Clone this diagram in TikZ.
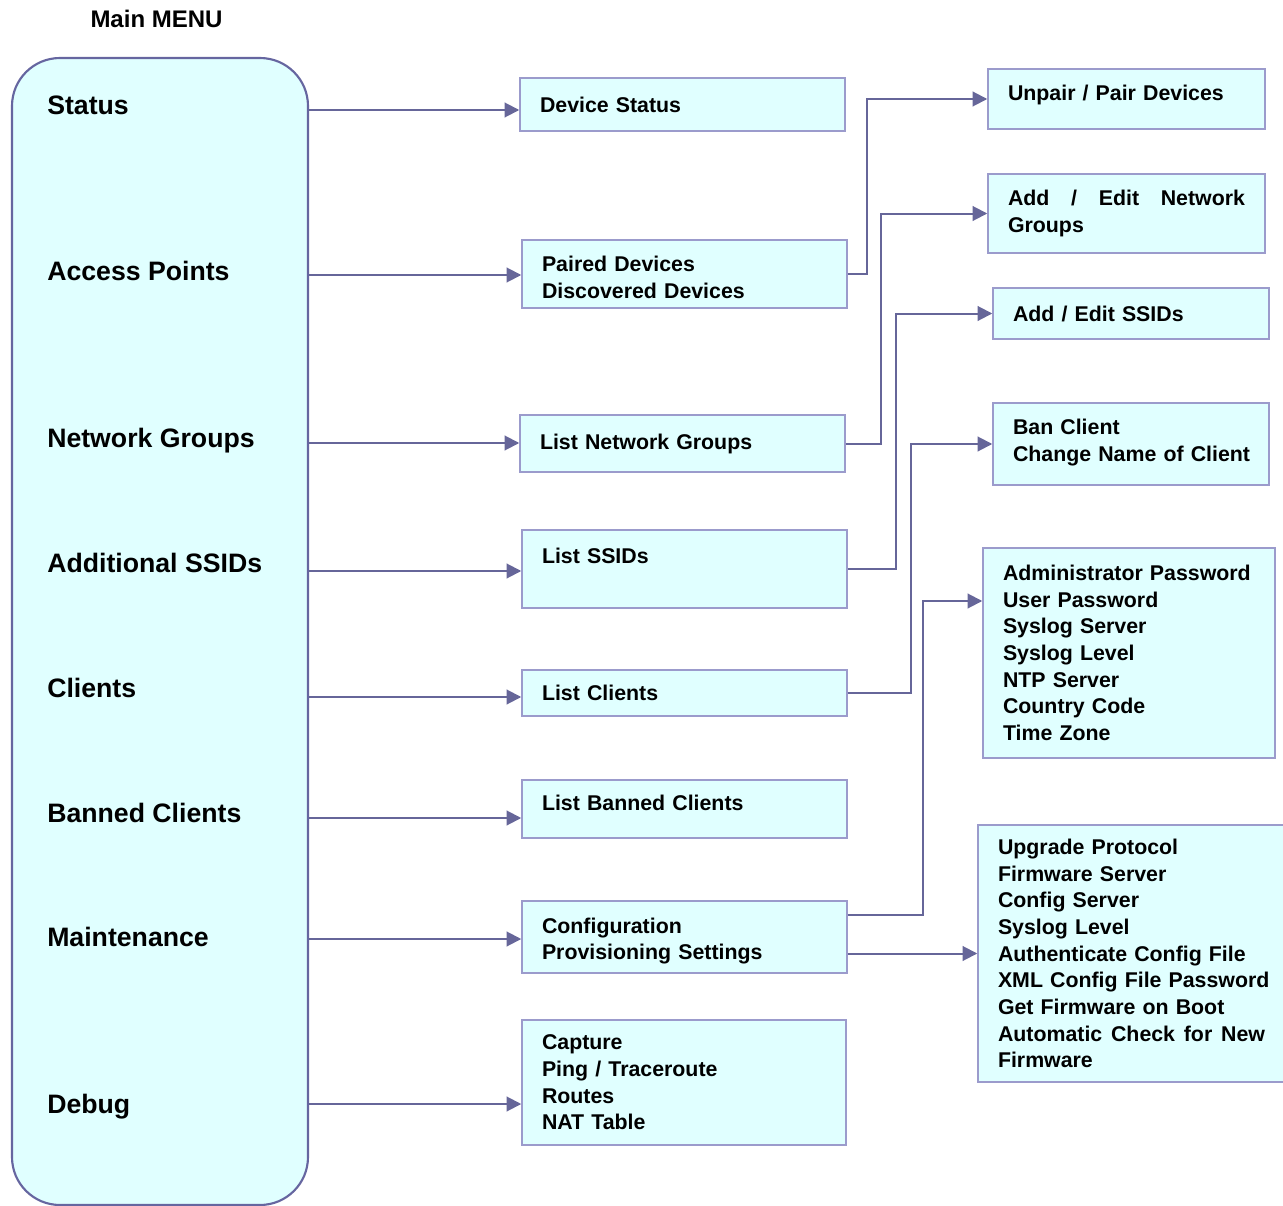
\documentclass[tikz,border=0pt]{standalone}
\usepackage{fontspec}
\setmainfont{Liberation Sans}
\usetikzlibrary{arrows.meta}
\definecolor{boxfill}{HTML}{E0FFFF}
\definecolor{boxline}{HTML}{9B9BCC}
\definecolor{mainline}{HTML}{6666A0}
\definecolor{connc}{HTML}{666699}
\newcommand{\boxfont}{\bfseries\fontsize{16}{20}\selectfont}
\newcommand{\lblfont}{\bfseries\fontsize{20}{24}\selectfont}
\begin{document}
\begin{tikzpicture}[x=0.75pt,y=-0.75pt,
  conn/.style={draw=connc, line width=1.5pt, -{Triangle[length=11pt,width=11pt]}},
  pbox/.style={draw=boxline, fill=boxfill, line width=1.1pt, inner sep=0pt, align=left, font=\boxfont},
  mainbox/.style={draw=mainline, fill=boxfill, line width=1.6pt, rounded corners=36pt},
  lbl/.style={anchor=base west, inner sep=0pt, font=\lblfont}]
\useasboundingbox (0,0) rectangle (1283,1206);

% title
\node[anchor=base, inner sep=0pt, font=\bfseries\fontsize{18}{22}\selectfont] (title) at (156.5,27.5) {Main MENU};

% main box
\node[mainbox, minimum width=222pt, minimum height=860.25pt] (main) at (160,631.5) {};
\node[lbl] (l1) at (47,114.5) {Status};
\node[lbl] (l2) at (47,280.5) {Access Points};
\node[lbl] (l3) at (47,447.5) {Network Groups};
\node[lbl] (l4) at (47,572.5) {Additional SSIDs};
\node[lbl] (l5) at (47,697.5) {Clients};
\node[lbl] (l6) at (47,822.5) {Banned Clients};
\node[lbl] (l7) at (47,946.5) {Maintenance};
\node[lbl] (l8) at (47,1113.5) {Debug};

% middle boxes
\node[pbox, minimum width=243.75pt, minimum height=39.75pt, text width=213.75pt] (ds) at (682.5,104.5) {Device Status};
\node[pbox, minimum width=243.75pt, minimum height=51pt, text width=213.75pt] (pd) at (684.5,274) {\rule{0pt}{17pt}Paired Devices\\Discovered Devices};
\node[pbox, minimum width=243.75pt, minimum height=42.75pt, text width=213.75pt] (lng) at (682.5,443.5) {List Network Groups};
\node[pbox, minimum width=243.75pt, minimum height=58.5pt, text width=213.75pt] (ls) at (684.5,569) {List SSIDs\\\mbox{}};
\node[pbox, minimum width=243.75pt, minimum height=34.5pt, text width=213.75pt] (lc) at (684.5,693) {List Clients};
\node[pbox, minimum width=243.75pt, minimum height=43.5pt, text width=213.75pt] (lbc) at (684.5,809) {List Banned Clients\\[-11pt]\mbox{}};
\node[pbox, minimum width=243.75pt, minimum height=54pt, text width=213.75pt] (cfg) at (684.5,937) {\rule{0pt}{17.7pt}Configuration\\Provisioning Settings};
\node[pbox, minimum width=243pt, minimum height=93.75pt, text width=213pt] (dbg) at (684,1082.5) {Capture\\Ping / Traceroute\\Routes\\NAT Table};

% right boxes
\node[pbox, minimum width=207.75pt, minimum height=45pt, text width=177.75pt] (up) at (1126.5,99) {Unpair / Pair Devices\\[-11pt]\mbox{}};
\node[pbox, minimum width=207.75pt, minimum height=59.25pt, text width=177.75pt] (ang) at (1126.5,213.5) {\makebox[177.75pt][l]{Add\hfill/\hfill Edit\hfill Network}\\Groups};
\node[pbox, minimum width=207pt, minimum height=38.25pt, text width=177pt] (as) at (1131,313.5) {Add / Edit SSIDs};
\node[pbox, minimum width=207pt, minimum height=61.5pt, text width=177pt] (ban) at (1131,444) {Ban Client\\\mbox{Change Name of Client}\\[-14pt]\mbox{}};
\node[pbox, minimum width=219pt, minimum height=157.5pt, text width=189pt] (adm) at (1129,653) {Administrator Password\\User Password\\Syslog Server\\Syslog Level\\NTP Server\\Country Code\\Time Zone};
\node[pbox, minimum width=230.25pt, minimum height=192.75pt, text width=200.25pt] (upg) at (1131.5,953.5) {Upgrade Protocol\\Firmware Server\\Config Server\\Syslog Level\\Authenticate Config File\\\mbox{XML Config File Password}\\Get Firmware on Boot\\\makebox[200.25pt][l]{Automatic\hfill Check\hfill for\hfill New}\\Firmware};

% connectors main -> middle
\draw[conn] (main.east |- 0,110) -- (ds.west |- 0,110);
\draw[conn] (main.east |- 0,275) -- (pd.west |- 0,275);
\draw[conn] (main.east |- 0,443) -- (lng.west |- 0,443);
\draw[conn] (main.east |- 0,571) -- (ls.west |- 0,571);
\draw[conn] (main.east |- 0,697) -- (lc.west |- 0,697);
\draw[conn] (main.east |- 0,818) -- (lbc.west |- 0,818);
\draw[conn] (main.east |- 0,939) -- (cfg.west |- 0,939);
\draw[conn] (main.east |- 0,1104) -- (dbg.west |- 0,1104);

% connectors middle -> right
\draw[conn] (pd.east) -- ++(19,0) |- (up.west);
\draw[conn] (lng.east) -- ++(35,0) |- (ang.west);
\draw[conn] (ls.east) -- ++(48,0) |- (as.west);
\draw[conn] (lc.east) -- ++(63,0) |- (ban.west);
\coordinate (cfgout) at (847,915);
\coordinate (admin) at (983,601);
\draw[conn] (cfg.east |- cfgout) -- (923,915) |- (adm.west |- admin);
\draw[conn] (cfg.east |- upg.west) -- (upg.west);
\end{tikzpicture}
\end{document}
